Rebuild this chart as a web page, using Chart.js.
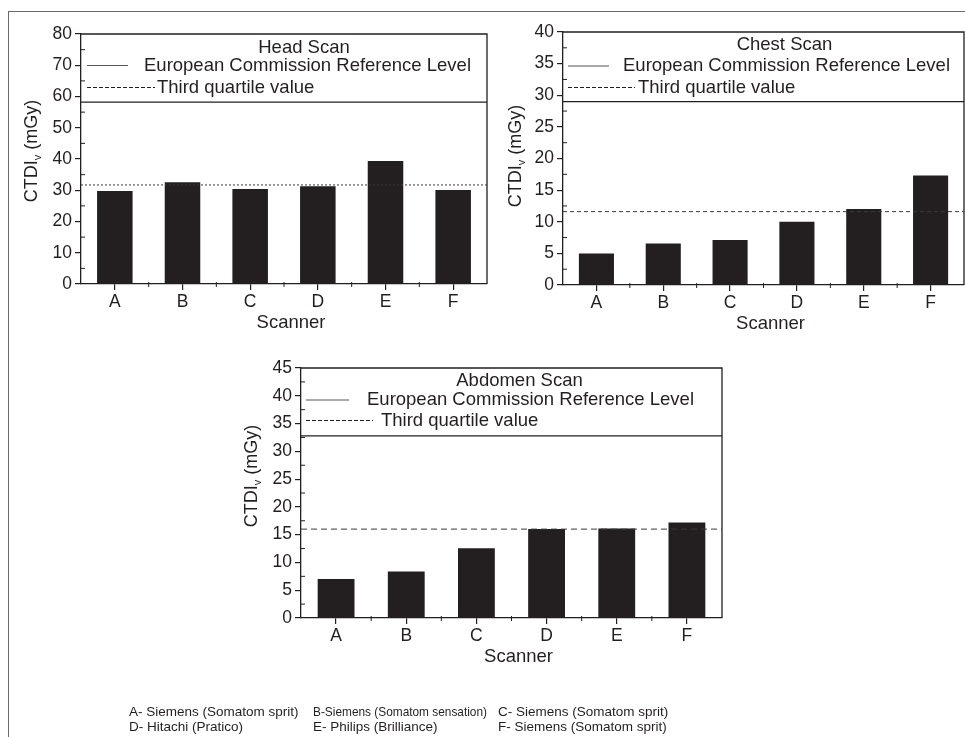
<!DOCTYPE html>
<html>
<head>
<meta charset="utf-8">
<script src="https://cdn.jsdelivr.net/npm/chart.js@4.4.1/dist/chart.umd.min.js"></script>
<style>
  html, body { margin: 0; padding: 0; background: #fff; }
  #page { position: relative; width: 965px; height: 737px; overflow: hidden; }
  #frame { position: absolute; left: 8px; top: 11px; right: -4px; bottom: -4px; border-top: 1px solid #6b6b6b; border-left: 1px solid #6b6b6b; }
  canvas { position: absolute; left: 0; top: 0; }
  .caption { position: absolute; font: 13.5px 'Liberation Sans', Arial, sans-serif; color: #231f20; white-space: nowrap; line-height: 15px; transform-origin: 0 0; }
</style>
</head>
<body>
<div id="page">
  <div id="frame"></div>
  <canvas id="chart-head" width="965" height="737"></canvas>
  <canvas id="chart-chest" width="965" height="737"></canvas>
  <canvas id="chart-abdomen" width="965" height="737"></canvas>
</div>
<script>
const categories = ['A', 'B', 'C', 'D', 'E', 'F'];
const headValues = [29.8, 32.6, 30.4, 31.3, 39.4, 30.1];
const chestValues = [5.0, 6.55, 7.1, 10.0, 12.0, 17.3];
const abdomenValues = [7.0, 8.35, 12.55, 16.0, 16.1, 17.2];

const scanTitles = ['Head Scan', 'Chest Scan', 'Abdomen Scan'];
const referenceLevels = [58.2, 29.0, 32.8];
const thirdQuartiles = [31.7, 11.6, 16.0];
const yMaxima = [80, 40, 45];
const yStepSizes = [10, 5, 5];

const legendLabels = ['European Commission Reference Level', 'Third quartile value'];
const captionColumns = [
    ['A- Siemens (Somatom sprit)', 'D- Hitachi (Pratico)'],
    ['B-Siemens (Somatom sensation)', 'E- Philips (Brilliance)'],
    ['C- Siemens (Somatom sprit)', 'F- Siemens (Somatom sprit)'],
];

const INK = '#231f20';
const FAMILY = "'Liberation Sans', Arial, sans-serif";
const tickFont = { family: FAMILY, size: 17.5 };
const Y_W = 70;
const X_H = 60;

// plot boxes and legend placement, in page pixels
const panels = [
    { left: 81, top: 34, right: 487, bottom: 284, titleDx: 20, titleY: 48,
      solid: [87, 128, 65.5], ecX: 144, dash: [87, 155, 87.5], tqX: 157, dashPattern: [2, 2],
      yTitle: [32, 151], scannerDx: 7 },
    { left: 563, top: 32, right: 964, bottom: 285, titleDx: 21, titleY: 45,
      solid: [568, 609, 66], ecX: 623, dash: [568, 635, 87.5], tqX: 638, dashPattern: [4, 3],
      yTitle: [516, 156], scannerDx: 7 },
    { left: 301, top: 368, right: 722, bottom: 618, titleDx: 8, titleY: 381,
      solid: [306, 349, 400], ecX: 367, dash: [306, 373, 420.5], tqX: 381, dashPattern: [6, 4],
      yTitle: [252, 476], scannerDx: 7 },
];

function panelPlugin(i) {
    const p = panels[i];
    return {
        id: 'panel' + i,
        afterDraw(chart) {
            const { ctx, chartArea: a, scales } = chart;
            ctx.save();
            ctx.strokeStyle = INK;
            ctx.fillStyle = INK;

            // top and right frame
            ctx.lineWidth = 1.3;
            ctx.beginPath();
            ctx.moveTo(a.left, a.top);
            ctx.lineTo(a.right, a.top);
            ctx.lineTo(a.right, a.bottom);
            ctx.stroke();

            // reference level line (legend box bottom)
            const yRef = scales.y.getPixelForValue(referenceLevels[i]);
            ctx.lineWidth = 1.2;
            ctx.beginPath();
            ctx.moveTo(a.left, yRef);
            ctx.lineTo(a.right, yRef);
            ctx.stroke();

            // third quartile line
            const yq = scales.y.getPixelForValue(thirdQuartiles[i]);
            ctx.lineWidth = 1;
            ctx.strokeStyle = '#3a3a3a';
            ctx.setLineDash(p.dashPattern);
            ctx.beginPath();
            ctx.moveTo(a.left, yq);
            ctx.lineTo(a.right, yq);
            ctx.stroke();

            // legend samples
            ctx.setLineDash([]);
            ctx.strokeStyle = '#555';
            ctx.beginPath();
            ctx.moveTo(p.solid[0], p.solid[2]);
            ctx.lineTo(p.solid[1], p.solid[2]);
            ctx.stroke();
            ctx.strokeStyle = INK;
            ctx.setLineDash([4, 2]);
            ctx.beginPath();
            ctx.moveTo(p.dash[0], p.dash[2]);
            ctx.lineTo(p.dash[1], p.dash[2]);
            ctx.stroke();
            ctx.setLineDash([]);

            // legend texts
            ctx.font = `18.5px ${FAMILY}`;
            ctx.textBaseline = 'middle';
            ctx.textAlign = 'center';
            ctx.fillText(scanTitles[i], (a.left + a.right) / 2 + p.titleDx, p.titleY);
            ctx.textAlign = 'left';
            ctx.fillText(legendLabels[0], p.ecX, p.solid[2]);
            ctx.fillText(legendLabels[1], p.tqX, p.dash[2]);

            // minor ticks on y
            ctx.lineWidth = 1;
            const ys = scales.y;
            const half = yStepSizes[i] / 2;
            ctx.beginPath();
            for (let v = half; v < yMaxima[i]; v += yStepSizes[i]) {
                const py = ys.getPixelForValue(v);
                ctx.moveTo(a.left - 1, py);
                ctx.lineTo(a.left + 4, py);
            }
            // minor ticks on x at category boundaries
            const xs = scales.x;
            for (let k = 1; k < categories.length; k++) {
                const px = (xs.getPixelForValue(k - 1) + xs.getPixelForValue(k)) / 2;
                ctx.moveTo(px, a.bottom - 2);
                ctx.lineTo(px, a.bottom + 3);
            }
            ctx.stroke();

            // x title
            ctx.textAlign = 'center';
            ctx.fillText('Scanner', (a.left + a.right) / 2 + p.scannerDx, a.bottom + 39);

            // y title with subscript
            ctx.translate(p.yTitle[0], p.yTitle[1]);
            ctx.rotate(-Math.PI / 2);
            ctx.textAlign = 'left';
            const big = `18px ${FAMILY}`;
            const small = `11px ${FAMILY}`;
            ctx.font = big;
            const w1 = ctx.measureText('CTDI').width;
            const w3 = ctx.measureText(' (mGy)').width;
            ctx.font = small;
            const w2 = ctx.measureText('v').width;
            let cx = -(w1 + w2 + w3) / 2;
            ctx.font = big;
            ctx.fillText('CTDI', cx, 0);
            cx += w1;
            ctx.font = small;
            ctx.fillText('v', cx, 6);
            cx += w2;
            ctx.font = big;
            ctx.fillText(' (mGy)', cx, 0);
            ctx.restore();
        },
    };
}

function makeChart(id, i, values) {
    const p = panels[i];
    return new Chart(document.getElementById(id), {
        type: 'bar',
        data: {
            labels: categories,
            datasets: [{
                data: values,
                backgroundColor: INK,
                borderWidth: 0,
                barPercentage: 0.525,
                categoryPercentage: 1,
            }],
        },
        options: {
            responsive: false,
            animation: false,
            layout: {
                padding: { left: p.left - Y_W, top: p.top, right: 965 - p.right, bottom: 737 - p.bottom - X_H },
            },
            plugins: { legend: { display: false }, tooltip: { enabled: false } },
            scales: {
                x: {
                    offset: true,
                    grid: { display: true, offset: false, drawOnChartArea: false, tickLength: 6, color: INK, lineWidth: 1.2 },
                    border: { color: INK, width: 1.3 },
                    ticks: { font: tickFont, color: INK, padding: 2, maxRotation: 0 },
                    afterFit: (s) => { s.height = X_H; },
                },
                y: {
                    min: 0,
                    max: yMaxima[i],
                    grid: { drawOnChartArea: false, tickLength: 6, color: INK, lineWidth: 1.2 },
                    border: { color: INK, width: 1.3 },
                    ticks: { stepSize: yStepSizes[i], font: tickFont, color: INK, padding: 3 },
                    afterFit: (s) => { s.width = Y_W; },
                },
            },
        },
        plugins: [panelPlugin(i)],
    });
}

makeChart('chart-head', 0, headValues);
makeChart('chart-chest', 1, chestValues);
makeChart('chart-abdomen', 2, abdomenValues);

// scanner key under the charts, one line at a time
const page = document.getElementById('page');
const captionX = [129, 313, 498];
const captionTop = [704, 719];
const captionMaxWidth = 174;
captionColumns.forEach((lines, c) => {
    lines.forEach((text, r) => {
        const div = document.createElement('div');
        div.className = 'caption';
        div.style.left = captionX[c] + 'px';
        div.style.top = captionTop[r] + 'px';
        div.textContent = text;
        page.appendChild(div);
        const natural = div.getBoundingClientRect().width;
        if (natural > captionMaxWidth) div.style.transform = `scaleX(${captionMaxWidth / natural})`;
    });
});
</script>
</body>
</html>
